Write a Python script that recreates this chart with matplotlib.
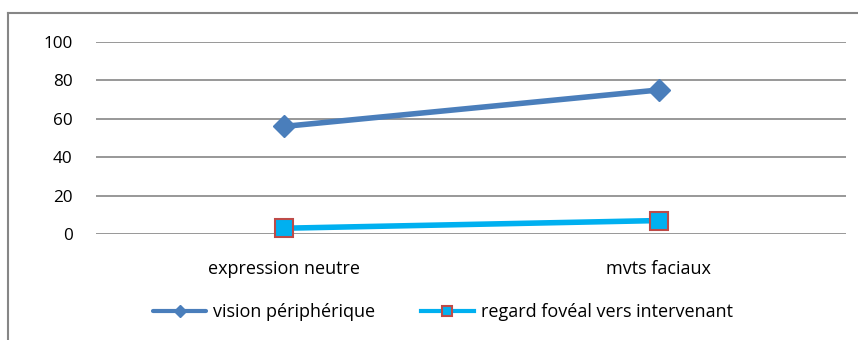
import matplotlib.pyplot as plt
from matplotlib.lines import Line2D

plt.rcParams['font.family'] = ['Open Sans', 'DejaVu Sans']

categories = ['expression neutre', 'mvts faciaux']
vision_peripherique = [56, 75]
regard_foveal = [3, 7]
yticks = [0, 20, 40, 60, 80, 100]

fig = plt.figure(figsize=(8.58, 3.4), dpi=100)
ax = fig.add_axes([96/858, 1 - 234/340, 750/858, 192/340])

xpos = [0.5, 1.5]
ax.plot(xpos, vision_peripherique, color='#4a7ebb', lw=4, marker='D', ms=11,
        label='vision périphérique', solid_capstyle='round')
ax.plot(xpos, regard_foveal, color='#00b0f0', lw=4, marker='s', ms=13,
        mfc='#00b0f0', mec='#be4b48', mew=1.5, label='regard fovéal vers intervenant')

ax.set_xlim(0, 2)
ax.set_ylim(0, 100)
ax.set_yticks(yticks)
ax.set_xticks(xpos)
ax.set_xticklabels(categories)
ax.tick_params(axis='x', length=0, pad=19, labelsize=13)
ax.tick_params(axis='y', length=0, pad=17, labelsize=12.3)
ax.yaxis.grid(True, color='#868686', lw=1.2)
ax.set_axisbelow(True)
for s in ax.spines.values():
    s.set_visible(False)
for ln in ax.lines:
    ln.set_clip_on(False)

leg = fig.legend(loc='center', bbox_to_anchor=(443/858, 1 - 312/340), ncol=2, frameon=False,
                 fontsize=13, handlelength=2.95, handletextpad=0.4, columnspacing=2.5,
                 markerscale=0.6)
for h in leg.get_lines():
    h.set_linewidth(3)

# outer chart border (top and left visible)
fig.add_artist(Line2D([8/858, 1], [1 - 13/340, 1 - 13/340], color='#868686', lw=1.5))
fig.add_artist(Line2D([8/858, 8/858], [0, 1 - 13/340], color='#868686', lw=1.5))

fig.savefig('out.png', dpi=100)
